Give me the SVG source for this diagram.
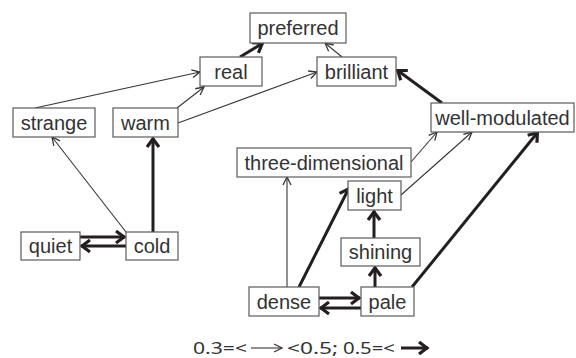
<svg xmlns="http://www.w3.org/2000/svg" width="576" height="358" viewBox="0 0 576 358">
<defs>
<style>
.box{fill:#fff;stroke:#5a5a5a;stroke-width:1.2}
.lbl{font-family:"Liberation Sans",Arial,sans-serif;font-size:20px;fill:#333;text-anchor:middle}
.thin{stroke:#3a3435;stroke-width:1.1;fill:none}
.thick{stroke:#231f20;stroke-width:3;fill:none}
.leg{font-family:"Noto Sans","DejaVu Sans",sans-serif;font-size:17px;fill:#333}
</style>
<marker id="at" markerUnits="userSpaceOnUse" viewBox="0 0 12 12" refX="10" refY="6" markerWidth="12" markerHeight="12" orient="auto">
<path d="M2,2 L10,6 L2,10" fill="none" stroke="#3a3435" stroke-width="1.3"/>
</marker>
<marker id="ak" markerUnits="userSpaceOnUse" viewBox="0 0 16 16" refX="13" refY="8" markerWidth="16" markerHeight="16" orient="auto">
<path d="M4,2 L12,8 L4,14" fill="none" stroke="#231f20" stroke-width="3.2"/>
</marker>
</defs>
<g id="connectors">
<line class="thick" x1="240" y1="57" x2="263" y2="43" marker-end="url(#ak)"/>
<line class="thin" x1="342" y1="57" x2="325" y2="43" marker-end="url(#at)"/>
<line class="thin" x1="35" y1="108" x2="200" y2="72" marker-end="url(#at)"/>
<line class="thin" x1="177" y1="108" x2="204" y2="87" marker-end="url(#at)"/>
<line class="thin" x1="178" y1="123" x2="317" y2="72" marker-end="url(#at)"/>
<line class="thick" x1="442" y1="103" x2="397" y2="70" marker-end="url(#ak)"/>
<line class="thin" x1="411" y1="162" x2="437" y2="132" marker-end="url(#at)"/>
<line class="thin" x1="401" y1="195" x2="472" y2="132" marker-end="url(#at)"/>
<line class="thick" x1="412" y1="287" x2="538" y2="132" marker-end="url(#ak)"/>
<line class="thin" x1="126" y1="232" x2="52" y2="137" marker-end="url(#at)"/>
<line class="thick" x1="153" y1="232" x2="153" y2="138" marker-end="url(#ak)"/>
<line class="thick" x1="80" y1="237" x2="125" y2="237" marker-end="url(#ak)"/>
<line class="thick" x1="126" y1="246" x2="81" y2="246" marker-end="url(#ak)"/>
<line class="thin" x1="287" y1="287" x2="287" y2="177" marker-end="url(#at)"/>
<line class="thick" x1="299" y1="287" x2="349" y2="188" marker-end="url(#ak)"/>
<line class="thick" x1="374" y1="238" x2="374" y2="211" marker-end="url(#ak)"/>
<line class="thick" x1="375" y1="287" x2="375" y2="267" marker-end="url(#ak)"/>
<line class="thick" x1="319" y1="298" x2="360" y2="298" marker-end="url(#ak)"/>
<line class="thick" x1="361" y1="308" x2="320" y2="308" marker-end="url(#ak)"/>
</g>
<g id="preferred"><rect class="box" x="250" y="13" width="96" height="30"/><text class="lbl" x="298" y="35">preferred</text></g>
<g id="real"><rect class="box" x="200" y="57" width="62" height="29"/><text class="lbl" x="231" y="78.5">real</text></g>
<g id="brilliant"><rect class="box" x="317" y="57" width="79" height="29"/><text class="lbl" x="356.5" y="78.5">brilliant</text></g>
<g id="strange"><rect class="box" x="13" y="108" width="82" height="29"/><text class="lbl" x="54" y="129.5">strange</text></g>
<g id="warm"><rect class="box" x="113" y="108" width="65" height="29"/><text class="lbl" x="145.5" y="129.5">warm</text></g>
<g id="well-modulated"><rect class="box" x="431" y="103" width="143" height="29"/><text class="lbl" x="502.5" y="124.5">well-modulated</text></g>
<g id="three-dimensional"><rect class="box" x="237" y="148" width="174" height="29"/><text class="lbl" x="324" y="169.5">three-dimensional</text></g>
<g id="light"><rect class="box" x="348" y="181" width="53" height="29"/><text class="lbl" x="374.5" y="202.5">light</text></g>
<g id="shining"><rect class="box" x="341" y="238" width="79" height="28"/><text class="lbl" x="380.5" y="259">shining</text></g>
<g id="dense"><rect class="box" x="249" y="287" width="70" height="29"/><text class="lbl" x="284" y="308.5">dense</text></g>
<g id="pale"><rect class="box" x="361" y="287" width="53" height="29"/><text class="lbl" x="387.5" y="308.5">pale</text></g>
<g id="quiet"><rect class="box" x="21" y="232" width="59" height="28"/><text class="lbl" x="50.5" y="253">quiet</text></g>
<g id="cold"><rect class="box" x="126" y="232" width="52" height="28"/><text class="lbl" x="152" y="253">cold</text></g>
<g id="legend">
<text class="leg" x="193" y="354" textLength="54" lengthAdjust="spacingAndGlyphs">0.3=&lt;</text>
<line class="thin" x1="251" y1="348" x2="282" y2="348" marker-end="url(#at)"/>
<text class="leg" x="287" y="354" textLength="51" lengthAdjust="spacingAndGlyphs">&lt;0.5;</text>
<text class="leg" x="343" y="354" textLength="52" lengthAdjust="spacingAndGlyphs">0.5=&lt;</text>
<line class="thick" x1="401" y1="348" x2="428" y2="348" marker-end="url(#ak)"/>
</g>
</svg>
